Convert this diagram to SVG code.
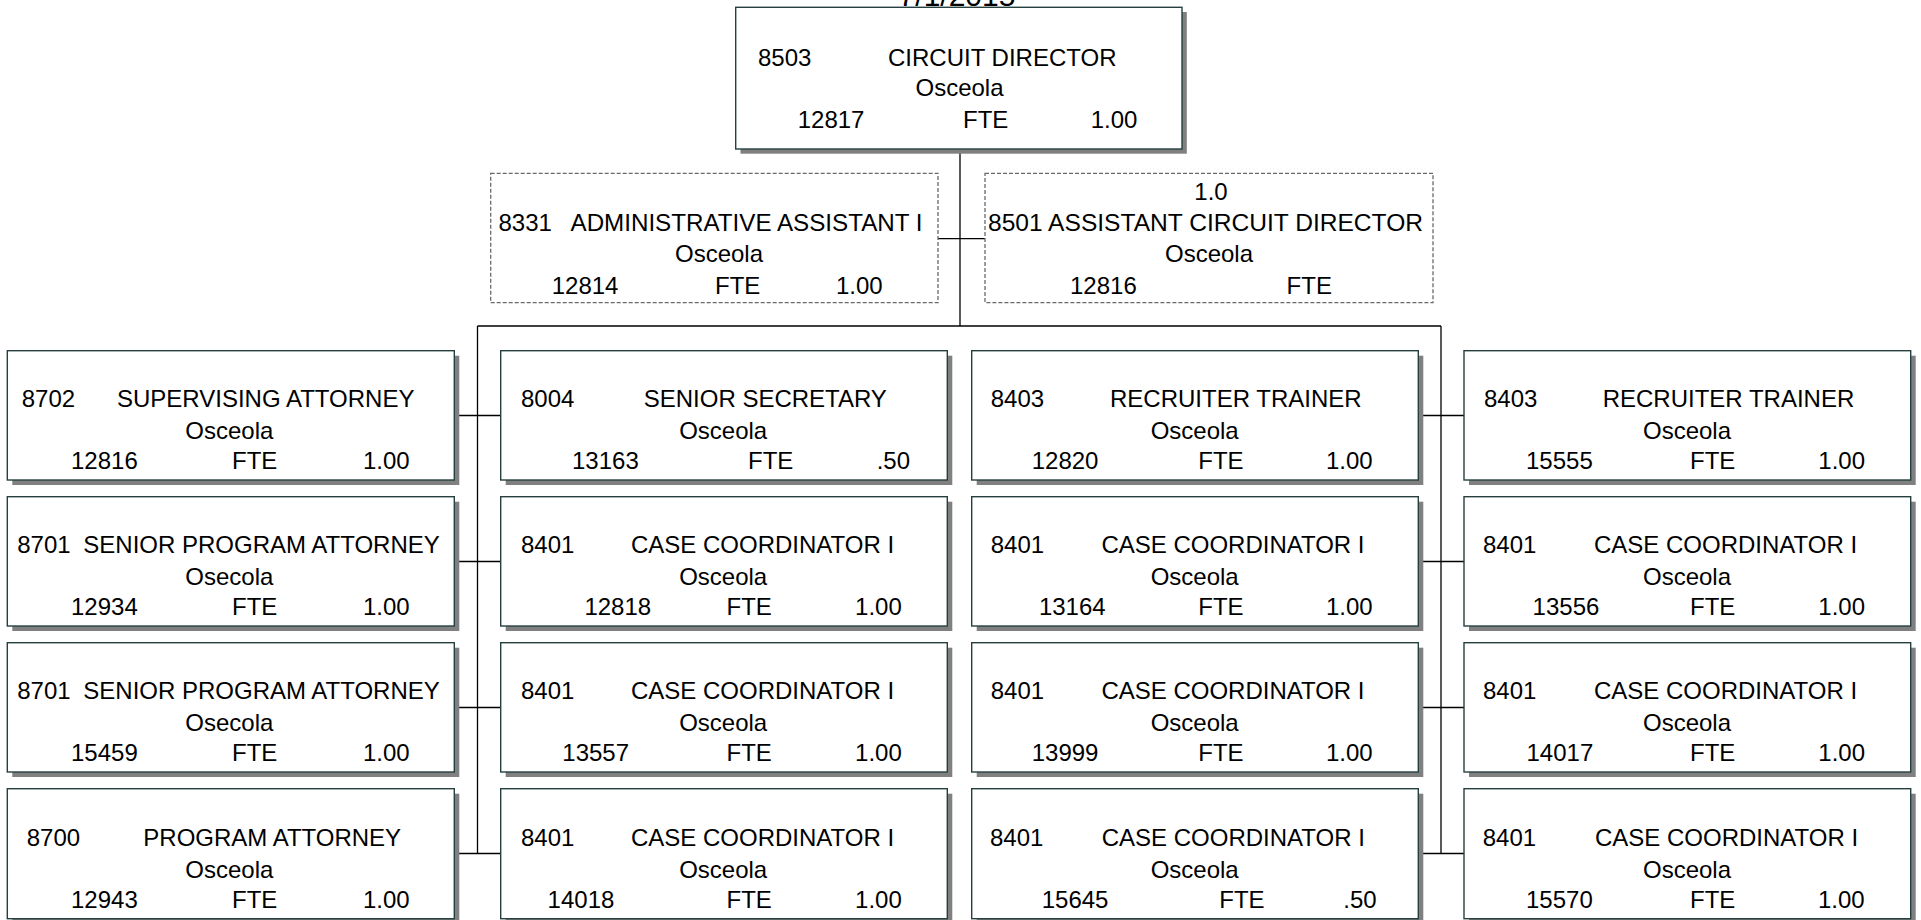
<svg xmlns="http://www.w3.org/2000/svg" width="1921" height="920" viewBox="0 0 1921 920">
  <style>
    .shadow { fill: #808080; }
    .box { fill: #ffffff; stroke: #263f3f; stroke-width: 1.4; }
    .dash { fill: #ffffff; stroke: #6a6a6a; stroke-width: 1.3; stroke-dasharray: 4 2; }
    .t { font-family: "Liberation Sans", Arial, sans-serif; font-size: 24px; fill: #000000; }
    .m { text-anchor: middle; }
    .conn line { stroke: #000000; stroke-width: 1.3; }
  </style>

  <rect width="1921" height="920" fill="#ffffff"/>

  <!-- date heading, mostly above the page edge -->
  <text class="t m" x="957" y="6" style="font-size:30px">7/1/2015</text>

  <!-- connectors -->
  <g id="connectors" class="conn">
    <line x1="960" y1="149" x2="960" y2="326"/>
    <line x1="938" y1="238.7" x2="985" y2="238.7"/>
    <line x1="477.5" y1="326" x2="1441" y2="326"/>
    <line x1="477.5" y1="326" x2="477.5" y2="854"/>
    <line x1="1441" y1="326" x2="1441" y2="854"/>
    <line x1="454" y1="415.5" x2="501" y2="415.5"/>
    <line x1="454" y1="561.5" x2="501" y2="561.5"/>
    <line x1="454" y1="707.5" x2="501" y2="707.5"/>
    <line x1="454" y1="853.5" x2="501" y2="853.5"/>
    <line x1="1418" y1="415.5" x2="1464" y2="415.5"/>
    <line x1="1418" y1="561.5" x2="1464" y2="561.5"/>
    <line x1="1418" y1="707.5" x2="1464" y2="707.5"/>
    <line x1="1418" y1="853.5" x2="1464" y2="853.5"/>
  </g>

  <!-- top position -->
  <g id="n8503">
    <rect class="shadow" x="740.5" y="12" width="446.3" height="141.7"/>
    <rect class="box" x="735.7" y="7.3" width="446.3" height="141.7"/>
    <text class="t" x="758" y="65.7">8503</text>
    <text class="t" x="888" y="65.7">CIRCUIT DIRECTOR</text>
    <text class="t m" x="959.5" y="96">Osceola</text>
    <text class="t" x="797.7" y="128">12817</text>
    <text class="t" x="963" y="128">FTE</text>
    <text class="t" x="1090.7" y="128">1.00</text>
  </g>

  <!-- assistants -->
  <g id="n8331">
    <rect class="dash" x="490.7" y="173.3" width="447.3" height="129.4"/>
    <text class="t" x="498.5" y="231">8331</text>
    <text class="t" x="570.5" y="231" textLength="352" lengthAdjust="spacingAndGlyphs">ADMINISTRATIVE ASSISTANT I</text>
    <text class="t m" x="719" y="261.5">Osceola</text>
    <text class="t" x="551.7" y="293.5">12814</text>
    <text class="t" x="715" y="293.5">FTE</text>
    <text class="t" x="836" y="293.5">1.00</text>
  </g>
  <g id="n8501">
    <rect class="dash" x="985" y="173.3" width="448" height="129.4"/>
    <text class="t m" x="1211" y="200">1.0</text>
    <text class="t" x="988" y="231" textLength="435" lengthAdjust="spacingAndGlyphs">8501 ASSISTANT CIRCUIT DIRECTOR</text>
    <text class="t m" x="1209" y="261.5">Osceola</text>
    <text class="t" x="1070" y="293.5">12816</text>
    <text class="t" x="1286.6" y="293.5">FTE</text>
  </g>

  <!-- row 1 -->
  <g id="n8702" transform="translate(7.3,350.7)">
    <rect class="shadow" x="5" y="5" width="447" height="129.3"/>
    <rect class="box" x="0" y="0" width="447" height="129.3"/>
    <text class="t" x="14.4" y="56">8702</text>
    <text class="t" x="109.7" y="56">SUPERVISING ATTORNEY</text>
    <text class="t m" x="222" y="88.6">Osceola</text>
    <text class="t" x="63.7" y="118.6">12816</text>
    <text class="t" x="224.7" y="118.6">FTE</text>
    <text class="t" x="355.7" y="118.6">1.00</text>
  </g>
  <g id="n8004" transform="translate(500.7,350.7)">
    <rect class="shadow" x="5" y="5" width="446.6" height="129.3"/>
    <rect class="box" x="0" y="0" width="446.6" height="129.3"/>
    <text class="t" x="20.3" y="56">8004</text>
    <text class="t" x="143" y="56">SENIOR SECRETARY</text>
    <text class="t m" x="222.5" y="88.6">Osceola</text>
    <text class="t" x="71.3" y="118.6">13163</text>
    <text class="t" x="247.3" y="118.6">FTE</text>
    <text class="t" x="376" y="118.6">.50</text>
  </g>
  <g id="n8403a" transform="translate(971.7,350.7)">
    <rect class="shadow" x="5" y="5" width="446.6" height="129.3"/>
    <rect class="box" x="0" y="0" width="446.6" height="129.3"/>
    <text class="t" x="19" y="56">8403</text>
    <text class="t" x="138.3" y="56">RECRUITER TRAINER</text>
    <text class="t m" x="223" y="88.6">Osceola</text>
    <text class="t" x="60" y="118.6">12820</text>
    <text class="t" x="226.6" y="118.6">FTE</text>
    <text class="t" x="354.3" y="118.6">1.00</text>
  </g>
  <g id="n8403b" transform="translate(1464,350.7)">
    <rect class="shadow" x="5" y="5" width="446.7" height="129.3"/>
    <rect class="box" x="0" y="0" width="446.7" height="129.3"/>
    <text class="t" x="20" y="56">8403</text>
    <text class="t" x="138.7" y="56">RECRUITER TRAINER</text>
    <text class="t m" x="223" y="88.6">Osceola</text>
    <text class="t" x="62" y="118.6">15555</text>
    <text class="t" x="226" y="118.6">FTE</text>
    <text class="t" x="354.3" y="118.6">1.00</text>
  </g>

  <!-- row 2 -->
  <g id="n8701a" transform="translate(7.3,496.7)">
    <rect class="shadow" x="5" y="5" width="447" height="129.3"/>
    <rect class="box" x="0" y="0" width="447" height="129.3"/>
    <text class="t" x="9.9" y="56">8701</text>
    <text class="t" x="76" y="56">SENIOR PROGRAM ATTORNEY</text>
    <text class="t m" x="222" y="88.6">Osecola</text>
    <text class="t" x="63.7" y="118.6">12934</text>
    <text class="t" x="224.7" y="118.6">FTE</text>
    <text class="t" x="355.7" y="118.6">1.00</text>
  </g>
  <g id="n8401a" transform="translate(500.7,496.7)">
    <rect class="shadow" x="5" y="5" width="446.6" height="129.3"/>
    <rect class="box" x="0" y="0" width="446.6" height="129.3"/>
    <text class="t" x="20.3" y="56">8401</text>
    <text class="t" x="130.3" y="56">CASE COORDINATOR I</text>
    <text class="t m" x="222.5" y="88.6">Osceola</text>
    <text class="t" x="83.7" y="118.6">12818</text>
    <text class="t" x="225.8" y="118.6">FTE</text>
    <text class="t" x="354.4" y="118.6">1.00</text>
  </g>
  <g id="n8401b" transform="translate(971.7,496.7)">
    <rect class="shadow" x="5" y="5" width="446.6" height="129.3"/>
    <rect class="box" x="0" y="0" width="446.6" height="129.3"/>
    <text class="t" x="19" y="56">8401</text>
    <text class="t" x="129.7" y="56">CASE COORDINATOR I</text>
    <text class="t m" x="223" y="88.6">Osceola</text>
    <text class="t" x="67.2" y="118.6">13164</text>
    <text class="t" x="226.6" y="118.6">FTE</text>
    <text class="t" x="354.3" y="118.6">1.00</text>
  </g>
  <g id="n8401c" transform="translate(1464,496.7)">
    <rect class="shadow" x="5" y="5" width="446.7" height="129.3"/>
    <rect class="box" x="0" y="0" width="446.7" height="129.3"/>
    <text class="t" x="19" y="56">8401</text>
    <text class="t" x="130" y="56">CASE COORDINATOR I</text>
    <text class="t m" x="223" y="88.6">Osceola</text>
    <text class="t" x="68.6" y="118.6">13556</text>
    <text class="t" x="226" y="118.6">FTE</text>
    <text class="t" x="354.3" y="118.6">1.00</text>
  </g>

  <!-- row 3 -->
  <g id="n8701b" transform="translate(7.3,642.7)">
    <rect class="shadow" x="5" y="5" width="447" height="129.3"/>
    <rect class="box" x="0" y="0" width="447" height="129.3"/>
    <text class="t" x="9.9" y="56">8701</text>
    <text class="t" x="76" y="56">SENIOR PROGRAM ATTORNEY</text>
    <text class="t m" x="222" y="88.6">Osecola</text>
    <text class="t" x="63.7" y="118.6">15459</text>
    <text class="t" x="224.7" y="118.6">FTE</text>
    <text class="t" x="355.7" y="118.6">1.00</text>
  </g>
  <g id="n8401d" transform="translate(500.7,642.7)">
    <rect class="shadow" x="5" y="5" width="446.6" height="129.3"/>
    <rect class="box" x="0" y="0" width="446.6" height="129.3"/>
    <text class="t" x="20.3" y="56">8401</text>
    <text class="t" x="130.3" y="56">CASE COORDINATOR I</text>
    <text class="t m" x="222.5" y="88.6">Osceola</text>
    <text class="t" x="61.6" y="118.6">13557</text>
    <text class="t" x="225.8" y="118.6">FTE</text>
    <text class="t" x="354.4" y="118.6">1.00</text>
  </g>
  <g id="n8401e" transform="translate(971.7,642.7)">
    <rect class="shadow" x="5" y="5" width="446.6" height="129.3"/>
    <rect class="box" x="0" y="0" width="446.6" height="129.3"/>
    <text class="t" x="19" y="56">8401</text>
    <text class="t" x="129.7" y="56">CASE COORDINATOR I</text>
    <text class="t m" x="223" y="88.6">Osceola</text>
    <text class="t" x="60" y="118.6">13999</text>
    <text class="t" x="226.6" y="118.6">FTE</text>
    <text class="t" x="354.3" y="118.6">1.00</text>
  </g>
  <g id="n8401f" transform="translate(1464,642.7)">
    <rect class="shadow" x="5" y="5" width="446.7" height="129.3"/>
    <rect class="box" x="0" y="0" width="446.7" height="129.3"/>
    <text class="t" x="19" y="56">8401</text>
    <text class="t" x="130" y="56">CASE COORDINATOR I</text>
    <text class="t m" x="223" y="88.6">Osceola</text>
    <text class="t" x="62.5" y="118.6">14017</text>
    <text class="t" x="226" y="118.6">FTE</text>
    <text class="t" x="354.3" y="118.6">1.00</text>
  </g>

  <!-- row 4 -->
  <g id="n8700" transform="translate(7.3,788.7)">
    <rect class="shadow" x="5" y="5" width="447" height="130"/>
    <rect class="box" x="0" y="0" width="447" height="130"/>
    <text class="t" x="19.4" y="57.7">8700</text>
    <text class="t" x="136" y="57.7">PROGRAM ATTORNEY</text>
    <text class="t m" x="222" y="89.3">Osceola</text>
    <text class="t" x="63.7" y="119.6">12943</text>
    <text class="t" x="224.7" y="119.6">FTE</text>
    <text class="t" x="355.7" y="119.6">1.00</text>
  </g>
  <g id="n8401g" transform="translate(500.7,788.7)">
    <rect class="shadow" x="5" y="5" width="446.6" height="130"/>
    <rect class="box" x="0" y="0" width="446.6" height="130"/>
    <text class="t" x="20.3" y="57.7">8401</text>
    <text class="t" x="130.3" y="57.7">CASE COORDINATOR I</text>
    <text class="t m" x="222.5" y="89.3">Osceola</text>
    <text class="t" x="46.9" y="119.6">14018</text>
    <text class="t" x="225.8" y="119.6">FTE</text>
    <text class="t" x="354.4" y="119.6">1.00</text>
  </g>
  <g id="n8401h" transform="translate(971.7,788.7)">
    <rect class="shadow" x="5" y="5" width="446.6" height="130"/>
    <rect class="box" x="0" y="0" width="446.6" height="130"/>
    <text class="t" x="18.3" y="57.7">8401</text>
    <text class="t" x="130" y="57.7">CASE COORDINATOR I</text>
    <text class="t m" x="223" y="89.3">Osceola</text>
    <text class="t" x="70" y="119.6">15645</text>
    <text class="t" x="247.6" y="119.6">FTE</text>
    <text class="t" x="371.6" y="119.6">.50</text>
  </g>
  <g id="n8401i" transform="translate(1464,788.7)">
    <rect class="shadow" x="5" y="5" width="446.7" height="130"/>
    <rect class="box" x="0" y="0" width="446.7" height="130"/>
    <text class="t" x="18.7" y="57.7">8401</text>
    <text class="t" x="131" y="57.7">CASE COORDINATOR I</text>
    <text class="t m" x="223" y="89.3">Osceola</text>
    <text class="t" x="62" y="119.6">15570</text>
    <text class="t" x="226" y="119.6">FTE</text>
    <text class="t" x="354" y="119.6">1.00</text>
  </g>
</svg>
